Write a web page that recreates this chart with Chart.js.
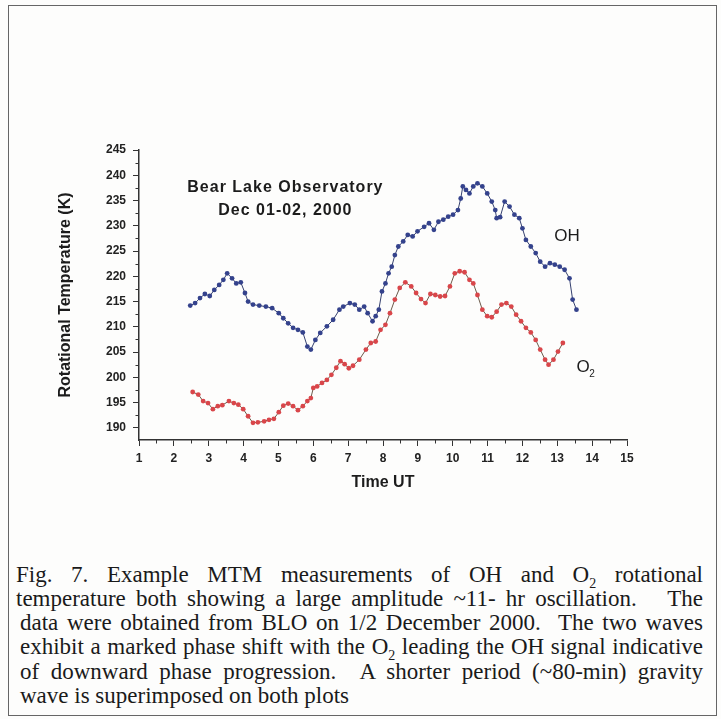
<!DOCTYPE html>
<html>
<head>
<meta charset="utf-8">
<script src="https://cdn.jsdelivr.net/npm/chart.js@4"></script>
<style>
  body { margin: 0; background: #fdfdfc; }
  #wrap { position: relative; width: 721px; height: 719px; overflow: hidden; }
  #frame { position: absolute; left: 8px; top: 5px; width: 709px; height: 711px; border: 1.5px solid #666; box-sizing: border-box; }
  #chart { position: absolute; left: 0; top: 0; }
  .cap { position: absolute; font-family: 'Liberation Serif', 'Times New Roman', serif; font-size: 23px; color: #1a1a1a; white-space: nowrap; line-height: 24px; }
  .cap.j { text-align: justify; text-align-last: justify; white-space: normal; }
  .cap sub { font-size: 14px; line-height: 0; }
</style>
</head>
<body>
<div id="wrap">
  <div id="frame"></div>
  <canvas id="chart" width="721" height="540"></canvas>
  <div class="cap j" style="left:16px; top:563px; width:687px;">Fig. 7. Example MTM measurements of OH and O<sub>2</sub> rotational</div>
  <div class="cap j" style="left:16px; top:587px; width:687px;">temperature both showing a large amplitude ~11- hr oscillation. &nbsp;&nbsp;The</div>
  <div class="cap j" style="left:20px; top:611px; width:683px;">data were obtained from BLO on 1/2 December 2000. &nbsp;The two waves</div>
  <div class="cap j" style="left:20px; top:635px; width:683px;">exhibit a marked phase shift with the O<sub>2</sub> leading the OH signal indicative</div>
  <div class="cap j" style="left:20px; top:660px; width:683px;">of downward phase progression. &nbsp;A shorter period (~80-min) gravity</div>
  <div class="cap" style="left:20px; top:684px;">wave is superimposed on both plots</div>
</div>
<script>
// OH rotational temperature (blue)
const ohTime = [2.47, 2.61, 2.75, 2.89, 3.03, 3.16, 3.30, 3.42, 3.53, 3.67, 3.79, 3.92, 4.04, 4.13, 4.27, 4.45,
  4.64, 4.82, 5.01, 5.14, 5.28, 5.42, 5.56, 5.70, 5.83, 5.93, 6.06, 6.20, 6.39, 6.57, 6.75,
  6.86, 7.05, 7.19, 7.32, 7.46, 7.56, 7.70, 7.79, 7.88, 7.97, 8.07, 8.16, 8.25, 8.34, 8.44,
  8.58, 8.71, 8.85, 8.99, 9.18, 9.32, 9.46, 9.59, 9.73, 9.87, 10.01, 10.15, 10.23, 10.29, 10.38,
  10.48, 10.59, 10.71, 10.85, 10.99, 11.12, 11.22, 11.26, 11.36, 11.49, 11.63, 11.77, 11.91, 12.00,
  12.10, 12.24, 12.38, 12.51, 12.65, 12.79, 12.93, 13.07, 13.21, 13.35, 13.44, 13.55];
const ohTemp = [214.2, 214.7, 215.7, 216.5, 216.1, 217.3, 218.3, 219.3, 220.6, 219.6, 218.6, 218.8, 216.7, 215.0, 214.4, 214.2,
  214.0, 213.7, 212.7, 211.7, 210.7, 209.8, 209.4, 208.9, 206.1, 205.5, 207.4, 208.8, 210.1, 211.4, 213.4,
  214.0, 214.7, 214.4, 213.4, 214.0, 212.7, 211.1, 212.1, 213.4, 217.0, 218.6, 220.6, 221.9, 224.2, 225.9,
  226.9, 228.2, 227.9, 228.9, 229.8, 230.5, 229.2, 230.8, 231.2, 231.8, 232.2, 233.1, 235.4, 237.8, 237.1,
  236.4, 237.8, 238.4, 237.8, 236.4, 234.8, 233.1, 231.5, 231.7, 234.8, 233.8, 232.2, 231.5, 229.5,
  227.2, 225.9, 224.6, 222.9, 221.9, 222.6, 222.3, 221.9, 221.3, 219.6, 215.4, 213.4];

// O2 rotational temperature (red)
const o2Time = [2.54, 2.70, 2.84, 2.98, 3.12, 3.26, 3.39, 3.58, 3.72, 3.85, 3.99, 4.13, 4.27, 4.41, 4.59,
  4.73, 4.87, 5.01, 5.14, 5.28, 5.42, 5.56, 5.70, 5.83, 5.93, 6.00, 6.11, 6.25, 6.39, 6.52, 6.66,
  6.78, 6.90, 7.02, 7.14, 7.32, 7.51, 7.65, 7.79, 7.93, 8.07, 8.20, 8.34, 8.48, 8.64, 8.81, 8.95,
  9.09, 9.22, 9.36, 9.50, 9.64, 9.78, 9.92, 10.06, 10.20, 10.34, 10.48, 10.59, 10.71, 10.85, 10.99,
  11.12, 11.26, 11.40, 11.54, 11.68, 11.82, 11.96, 12.10, 12.24, 12.38, 12.51, 12.65, 12.75, 12.89,
  13.02, 13.16];
const o2Temp = [197.1, 196.6, 195.3, 194.9, 193.7, 194.3, 194.5, 195.3, 194.9, 194.6, 193.7, 192.3, 191.0, 191.1, 191.3,
  191.6, 191.8, 193.1, 194.4, 194.8, 194.3, 193.5, 194.3, 195.3, 195.9, 197.9, 198.2, 198.9, 199.5, 200.5, 201.9,
  203.2, 202.6, 201.8, 202.3, 203.5, 205.5, 206.8, 207.1, 209.4, 210.4, 212.7, 215.4, 217.7, 218.8, 218.0, 216.7,
  215.5, 214.7, 216.5, 216.3, 216.0, 216.1, 218.0, 220.6, 221.0, 220.8, 219.3, 218.6, 216.3, 213.4, 212.1,
  211.9, 213.0, 214.4, 214.7, 214.0, 212.4, 211.1, 209.8, 208.9, 207.4, 205.5, 203.5, 202.5, 203.5,
  205.1, 206.8];

const xMin = 1, xMax = 15;
const yMin = 187.6, yMax = 245;

const SANS = "'Liberation Sans', Arial, sans-serif";

function toPoints(xs, ys) { return xs.map((x, i) => ({x: x, y: ys[i]})); }

// text placed in data units
const labels = [
  {text: 'Bear Lake Observatory', x: 5.2, y: 237.6, font: 'bold 16px ' + SANS},
  {text: 'Dec 01-02, 2000', x: 5.2, y: 233.0, font: 'bold 16px ' + SANS},
  {text: 'OH', x: 13.28, y: 228.0, font: '17px ' + SANS},
  {text: 'O', x: 13.74, y: 202.0, font: '17px ' + SANS},
  {text: '2', x: 14.0, y: 200.7, font: '10px ' + SANS},
];

const extras = {
  id: 'extras',
  afterDraw(chart) {
    const ctx = chart.ctx, xs = chart.scales.x, ys = chart.scales.y;
    ctx.save();
    ctx.strokeStyle = '#333';
    ctx.lineWidth = 1;
    ctx.beginPath();
    xs.ticks.forEach(t => {
      if (Number.isInteger(t.value)) return;
      const px = Math.round(xs.getPixelForValue(t.value)) + 0.5;
      ctx.moveTo(px, xs.top); ctx.lineTo(px, xs.top + 3.5);
    });
    ys.ticks.forEach(t => {
      if (t.value % 5 === 0) return;
      const py = Math.round(ys.getPixelForValue(t.value)) + 0.5;
      ctx.moveTo(ys.right, py); ctx.lineTo(ys.right - 3.5, py);
    });
    ctx.stroke();

    ctx.fillStyle = '#1c1c1c';
    ctx.textAlign = 'center';
    ctx.textBaseline = 'middle';
    labels.forEach(l => {
      ctx.font = l.font;
      ctx.letterSpacing = l.font.startsWith('bold 16') ? '1px' : '0px';
      ctx.fillText(l.text, xs.getPixelForValue(l.x), ys.getPixelForValue(l.y));
    });
    ctx.restore();
  }
};

new Chart(document.getElementById('chart'), {
  type: 'scatter',
  data: {
    datasets: [
      { label: 'OH', data: toPoints(ohTime, ohTemp), showLine: true, borderColor: '#35406f', borderWidth: 1,
        pointRadius: 2.4, pointBackgroundColor: '#34428c', pointBorderWidth: 0 },
      { label: 'O2', data: toPoints(o2Time, o2Temp), showLine: true, borderColor: '#6b5a4a', borderWidth: 1,
        pointRadius: 2.4, pointBackgroundColor: '#d9464a', pointBorderWidth: 0 },
    ]
  },
  options: {
    responsive: false, animation: false,
    layout: { padding: { left: 52, right: 94, top: 150, bottom: 44 } },
    plugins: { legend: { display: false }, tooltip: { enabled: false } },
    scales: {
      x: {
        type: 'linear', min: xMin, max: xMax,
        afterFit: (s) => { s.height = 56; },
        border: { color: '#333', width: 1.5 },
        grid: { drawOnChartArea: false, tickLength: 6,
          tickColor: (c) => Number.isInteger(c.tick.value) ? '#333' : 'rgba(0,0,0,0)' },
        ticks: { stepSize: 0.5, autoSkip: false, maxRotation: 0, padding: 5, color: '#222',
          font: { family: SANS, size: 12, weight: 'bold' },
          callback: (v) => Number.isInteger(v) ? v : '' },
        title: { display: true, text: 'Time UT', color: '#1c1c1c', font: { family: SANS, size: 16, weight: 'bold' } }
      },
      y: {
        min: yMin, max: yMax,
        afterFit: (s) => { s.width = 87; },
        border: { color: '#333', width: 1.5 },
        grid: { drawOnChartArea: false, tickLength: 6,
          tickColor: (c) => c.tick.value % 5 === 0 ? '#333' : 'rgba(0,0,0,0)' },
        ticks: { stepSize: 2.5, includeBounds: false, autoSkip: false, padding: 7, color: '#222',
          font: { family: SANS, size: 12, weight: 'bold' },
          callback: (v) => v % 5 === 0 ? v : '' },
        title: { display: true, text: 'Rotational Temperature (K)', color: '#1c1c1c', font: { family: SANS, size: 16, weight: 'bold' } }
      }
    }
  },
  plugins: [extras]
});
</script>
</body>
</html>
